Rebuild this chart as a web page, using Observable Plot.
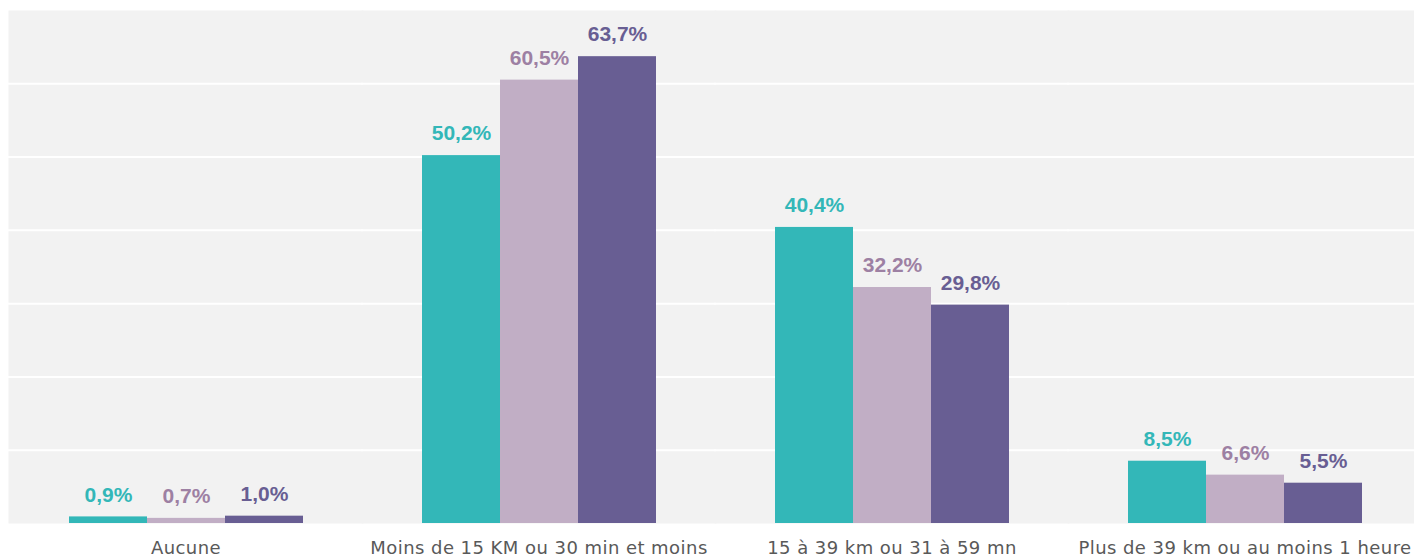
<!DOCTYPE html>
<html>
<head>
<meta charset="utf-8">
<script src="https://cdn.jsdelivr.net/npm/d3@7"></script>
<script src="https://cdn.jsdelivr.net/npm/@observablehq/plot@0.6"></script>
<style>
  html, body { margin: 0; padding: 0; background: #ffffff; }
  #chart svg { display: block; }
  #chart svg [aria-label="fx-axis tick label"] text { letter-spacing: 0.45px; }
</style>
</head>
<body>
<div id="chart"></div>
<script>
const categories = [
  "Aucune",
  "Moins de 15 KM ou 30 min et moins",
  "15 à 39 km ou 31 à 59 mn",
  "Plus de 39 km ou au moins 1 heure"
];
const series = ["Série 1", "Série 2", "Série 3"];
const values1 = [0.9, 50.2, 40.4, 8.5];
const values2 = [0.7, 60.5, 32.2, 6.6];
const values3 = [1.0, 63.7, 29.8, 5.5];
const gridTicks = [10, 20, 30, 40, 50, 60];

const barColors = ["#33b7b8", "#c1aec5", "#685e93"];
const labelColors = ["#33b7b8", "#9d80a3", "#685e93"];

const allValues = [values1, values2, values3];
const data = [];
series.forEach((s, si) => {
  categories.forEach((c, ci) => {
    data.push({cat: c, series: s, value: allValues[si][ci]});
  });
});
const fmt = v => v.toFixed(1).replace(".", ",") + "%";

const chart = Plot.plot({
  width: 1414,
  height: 557,
  marginLeft: 8,
  marginRight: 0,
  marginTop: 10,
  marginBottom: 34,
  style: {fontFamily: "'DejaVu Sans', Verdana, sans-serif", background: "#ffffff"},
  fx: {domain: categories, paddingInner: 0.335, paddingOuter: 0.156, align: 0.535, label: null},
  x: {domain: series, axis: null, padding: 0},
  y: {domain: [0, 70], axis: null},
  color: {domain: series, range: barColors},
  marks: [
    Plot.frame({fill: "#f2f2f2", stroke: null, insetLeft: -60, insetRight: -60}),
    Plot.ruleY(gridTicks, {stroke: "#ffffff", strokeWidth: 2, insetLeft: -60, insetRight: -60}),
    Plot.barY(data, {fx: "cat", x: "series", y: "value", fill: "series"}),
    ...series.map((s, si) => Plot.text(data.filter(d => d.series === s), {
      fx: "cat", x: "series", y: "value",
      text: d => fmt(d.value),
      dy: -22,
      fill: labelColors[si],
      fontSize: 21,
      fontWeight: "bold",
      fontFamily: "'Liberation Sans', Arial, sans-serif"
    })),
    Plot.axisFx({anchor: "bottom", tickSize: 0, tickPadding: 18, fontSize: 18, fill: "#595959", label: null})
  ]
});
document.getElementById("chart").appendChild(chart);
</script>
</body>
</html>
